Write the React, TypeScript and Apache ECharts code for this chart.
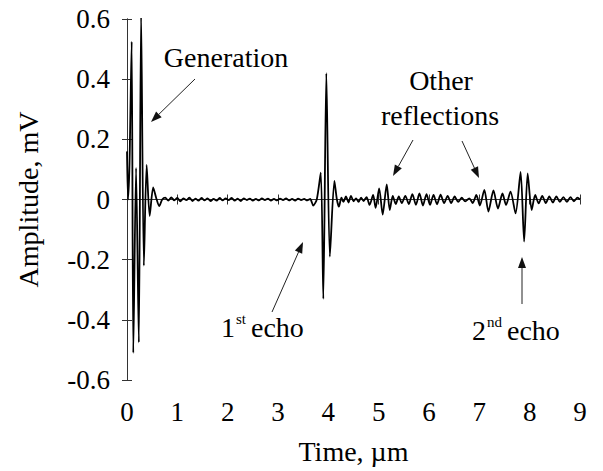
import React, { useEffect, useRef } from "react";
import * as echarts from "echarts";

const timeUs: number[] = [
  0, 0.02, 0.05, 0.093, 0.125, 0.18, 0.235, 0.28, 0.335, 0.39, 0.45, 0.52, 0.58, 0.64, 0.7,
  0.76, 0.82, 0.88, 0.94, 1.0, 1.06, 1.12, 1.18, 1.24, 1.3, 1.36, 1.42, 1.48, 1.54, 1.6,
  1.66, 1.72, 1.78, 1.84, 1.9, 1.96, 2.02, 2.08, 2.14, 2.2, 2.26, 2.32, 2.38, 2.44, 2.5,
  2.56, 2.62, 2.68, 2.74, 2.8, 2.86, 2.92, 2.98, 3.04, 3.1, 3.16, 3.22, 3.28, 3.34, 3.4,
  3.46, 3.52, 3.58, 3.64, 3.7, 3.77, 3.85, 3.9, 3.96, 4.03, 4.12, 4.17, 4.21, 4.26, 4.3,
  4.35, 4.4, 4.45, 4.5, 4.55, 4.6, 4.65, 4.7, 4.76, 4.82, 4.89, 4.94, 5.01, 5.08, 5.16,
  5.22, 5.28, 5.34, 5.4, 5.46, 5.53, 5.6, 5.67, 5.74, 5.81, 5.88, 5.95, 6.02, 6.09, 6.16,
  6.23, 6.3, 6.37, 6.44, 6.51, 6.58, 6.65, 6.72, 6.8, 6.87, 6.94, 7.01, 7.1, 7.18, 7.28,
  7.37, 7.46, 7.53, 7.62, 7.72, 7.82, 7.89, 7.96, 8.04, 8.11, 8.18, 8.25, 8.32, 8.39, 8.46,
  8.53, 8.6, 8.67, 8.74, 8.81, 8.88, 8.95, 9.0,
];

const amplitudeMv: number[] = [
  0.16, 0.0, 0.12, 0.525, -0.51, 0.105, -0.475, 0.62, -0.22, 0.115, -0.055, 0.04, 0.005, -0.022, 0.0,
  0.006, -0.004, 0.007, -0.003, 0.005, -0.006, 0.004, -0.002, 0.006, -0.005, 0.003, -0.004, 0.005, -0.003, 0.004,
  -0.005, 0.002, -0.004, 0.005, -0.003, 0.004, -0.002, 0.005, -0.004, 0.003, -0.005, 0.004, -0.002, 0.003, -0.004,
  0.002, -0.003, 0.004, -0.002, 0.003, -0.004, 0.002, -0.003, 0.003, -0.002, 0.004, -0.003, 0.002, -0.004, 0.003,
  -0.002, 0.002, -0.003, 0.002, -0.02, 0.0, 0.089, -0.33, 0.42, -0.19, 0.062, 0.0, -0.024, 0.006, -0.008,
  0.01, -0.01, 0.012, -0.006, 0.004, -0.008, 0.006, -0.005, 0.008, -0.018, 0.015, -0.028, 0.037, -0.05, 0.05,
  -0.035, 0.012, -0.015, 0.01, -0.012, 0.012, -0.015, 0.018, -0.018, 0.02, -0.02, 0.018, -0.018, 0.015, -0.016,
  0.016, -0.012, 0.012, -0.012, 0.01, -0.008, 0.006, -0.006, 0.004, -0.012, 0.015, -0.02, 0.032, -0.04, 0.03,
  -0.03, 0.02, -0.018, 0.026, -0.046, 0.092, -0.14, 0.087, -0.035, 0.015, -0.013, 0.012, -0.012, 0.01, -0.01,
  0.01, -0.008, 0.008, -0.008, 0.008, -0.006, 0.006, 0.0,
];

const xTicks: number[] = [0, 1, 2, 3, 4, 5, 6, 7, 8, 9];
const yTickLabels: string[] = ["-0.6", "-0.4", "-0.2", "0", "0.2", "0.4", "0.6"];

const FONT = "Liberation Serif";
const AX = "#333";

function arrow(x1: number, y1: number, x2: number, y2: number): any[] {
  const dx = x2 - x1;
  const dy = y2 - y1;
  const len = Math.sqrt(dx * dx + dy * dy);
  const ux = dx / len;
  const uy = dy / len;
  const hl = 11;
  const hw = 4;
  const bx = x2 - ux * hl;
  const by = y2 - uy * hl;
  return [
    {
      type: "line",
      shape: { x1, y1, x2: bx, y2: by },
      style: { stroke: "#222", lineWidth: 1 },
    },
    {
      type: "polygon",
      shape: {
        points: [
          [x2, y2],
          [bx - uy * hw, by + ux * hw],
          [bx + uy * hw, by - ux * hw],
        ],
      },
      style: { fill: "#111" },
    },
  ];
}

function txt(x: number, y: number, text: string, size: number, align = "center"): any {
  return {
    type: "text",
    x,
    y,
    style: {
      text,
      fontSize: size,
      fontFamily: FONT,
      fill: "#000",
      align,
      verticalAlign: "middle",
    },
  };
}

export default function App() {
  const ref = useRef<HTMLDivElement>(null);

  useEffect(() => {
    document.body.style.margin = "0";
    if (!ref.current) return;
    const chart = echarts.init(ref.current, undefined, { renderer: "svg" });
    const data = timeUs.map((t, i) => [t, amplitudeMv[i]]);
    const axisCommon = {
      axisLine: { show: true, lineStyle: { color: AX, width: 1 } },
      axisTick: { show: true, inside: true, length: 5, lineStyle: { color: AX } },
      splitLine: { show: false },
    };
    chart.setOption({
      animation: false,
      backgroundColor: "#fff",
      grid: { left: 127, right: 23, top: 19, bottom: 91 },
      xAxis: [
        {
          type: "value",
          min: xTicks[0],
          max: xTicks[xTicks.length - 1],
          interval: 1,
          position: "bottom",
          ...axisCommon,
          axisLabel: {
            fontSize: 27,
            fontFamily: FONT,
            color: "#000",
            margin: 18,
            formatter: (v: number) => String(v),
          },
          name: "Time, µm",
          nameLocation: "middle",
          nameGap: 57,
          nameTextStyle: { fontSize: 28, fontFamily: FONT, color: "#000" },
        },
        {
          type: "value",
          min: 0,
          max: 9,
          interval: 1,
          position: "top",
          ...axisCommon,
          axisLabel: { show: false },
        },
      ],
      yAxis: [
        {
          type: "value",
          min: -0.6,
          max: 0.6,
          interval: 0.2,
          position: "left",
          ...axisCommon,
          axisLabel: {
            fontSize: 27,
            fontFamily: FONT,
            color: "#000",
            margin: 17,
            formatter: (v: number) => {
              const idx = Math.round((v + 0.6) / 0.2);
              return yTickLabels[idx] ?? String(v);
            },
          },
          name: "Amplitude, mV",
          nameLocation: "middle",
          nameRotate: 90,
          nameGap: 85,
          nameTextStyle: { fontSize: 28, fontFamily: FONT, color: "#000" },
        },
        {
          type: "value",
          min: -0.6,
          max: 0.6,
          interval: 0.2,
          position: "right",
          ...axisCommon,
          axisLabel: { show: false },
        },
      ],
      series: [
        {
          type: "line",
          data,
          showSymbol: false,
          smooth: 0.25,
          lineStyle: { color: "#000", width: 1.8 },
          clip: true,
        },
      ],
      graphic: [
        txt(226, 57, "Generation", 28),
        ...arrow(195, 79, 151, 122),
        txt(441, 80, "Other", 28),
        txt(440, 115, "reflections", 28),
        ...arrow(413, 140, 393, 176),
        ...arrow(462, 141, 479, 178),
        txt(221, 327, "1", 28, "left"),
        txt(236, 319, "st", 15, "left"),
        txt(251, 327, "echo", 28, "left"),
        ...arrow(272, 312, 303, 242),
        txt(472, 330, "2", 28, "left"),
        txt(487, 322, "nd", 15, "left"),
        txt(507, 330, "echo", 28, "left"),
        ...arrow(522, 304, 522, 257),
      ],
    });
    return () => chart.dispose();
  }, []);

  return <div ref={ref} style={{ width: 603, height: 471 }} />;
}
